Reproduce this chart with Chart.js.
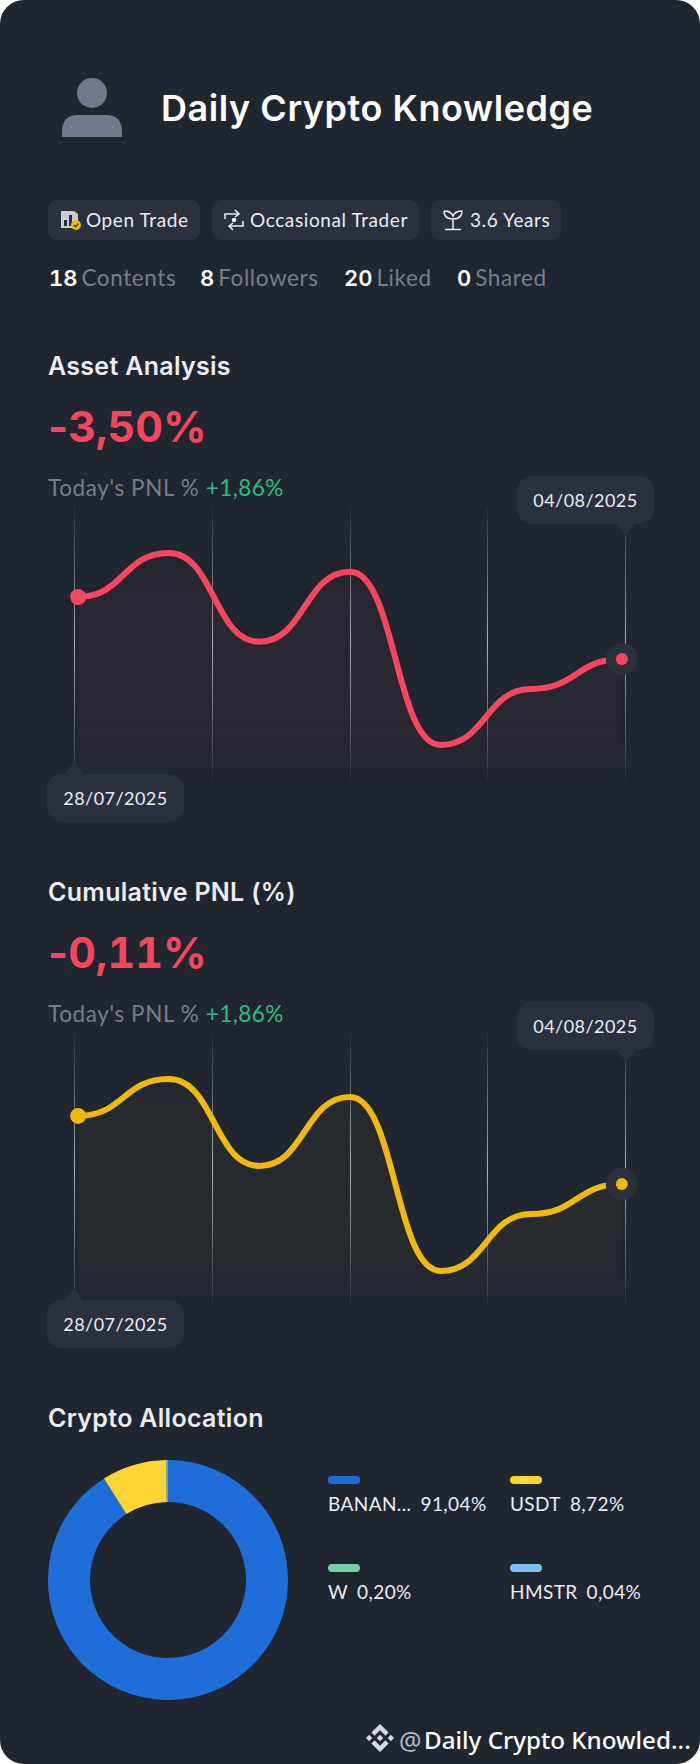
<!DOCTYPE html>
<html>
<head>
<meta charset="utf-8">
<script src="https://cdn.jsdelivr.net/npm/chart.js@4/dist/chart.umd.js"></script>
<style>
    html, body { margin: 0; padding: 0; background: #fff; }
    body { width: 700px; height: 1764px; overflow: hidden; }
    #card { position: relative; width: 700px; height: 1764px; background: #202630; border-radius: 24px; overflow: hidden; font-family: Lato, sans-serif; color: #EAECEF; }
    #card > * { position: absolute; white-space: nowrap; }
    canvas { left: 0; display: block; }
    .title { left: 161px; top: 84px; font-family: Inter, sans-serif; font-size: 36px; letter-spacing: 0.55px; line-height: 48px; font-weight: 600; color: #fff; }
    .badge { height: 40px; top: 200px; background: #2A303C; border-radius: 9px; font-size: 19px; letter-spacing: 0.6px; line-height: 40px; color: #EAECEF; box-sizing: border-box; }
    .badge svg { position: absolute; left: 12px; top: 9px; }
    .badge span { position: absolute; top: 0; }
    .stat { top: 263px; font-size: 22.5px; letter-spacing: 0.6px; line-height: 30px; color: #767D89; }
    .stat b { font-family: Inter, sans-serif; font-size: 22px; font-variant-numeric: tabular-nums; letter-spacing: 0; color: #fff; font-weight: 600; margin-right: 4px; }
    .heading { left: 48px; font-family: Inter, sans-serif; font-size: 25px; letter-spacing: 0.3px; line-height: 32px; font-weight: 600; color: #EAECEF; }
    .big { left: 48px; font-family: Inter, sans-serif; font-size: 43px; font-variant-numeric: tabular-nums; line-height: 56px; font-weight: 700; color: #F6465D; }
    .big span { font-variant-numeric: normal; }
    .today { left: 48px; font-size: 22.5px; letter-spacing: 0.6px; line-height: 30px; color: #767D89; }
    .today i { font-style: normal; letter-spacing: 0.4px; color: #2EBD85; }
    .tip { height: 48px; width: 137px; background: #2A303C; border-radius: 15px; font-size: 18px; letter-spacing: 0.45px; line-height: 48px; text-align: center; color: #EAECEF; }
    .arrow { width: 0; height: 0; border-left: 9px solid transparent; border-right: 9px solid transparent; }
    .swatch { width: 32px; height: 8px; border-radius: 4px; }
    .legend { font-size: 19px; letter-spacing: 0.4px; line-height: 24px; color: #EAECEF; }
    .legend span { margin-left: 9px; }
    .footer { left: 424px; top: 1724px; font-family: "Noto Sans", sans-serif; font-size: 24.2px; line-height: 32px; font-weight: 500; color: #fff; }
    .at { left: 399px; top: 1724px; font-family: "Noto Sans", sans-serif; font-size: 25px; line-height: 32px; color: #B4B9C0; }
</style>
</head>
<body>
<div id="card">
    <!-- avatar -->
    <svg style="left:62px;top:78px" width="60" height="60" viewBox="0 0 60 60">
        <ellipse cx="30" cy="15" rx="15" ry="15" fill="#707A8A"/>
        <path d="M0 59 V54 Q0 37 16 37 H44 Q60 37 60 54 V59 Z" fill="#707A8A"/>
    </svg>
    <div class="title">Daily Crypto Knowledge</div>

    <div class="badge" style="left:48px;width:152px">
        <svg width="22" height="22" viewBox="0 0 22 22"><path d="M1 2 H14 L18 5 V19 H1 Z" fill="#C9CDD2"/><path d="M4 11 H7 V17 H4 Z M9 6 H12 V17 H9 Z" fill="#2A303C"/><circle cx="16" cy="16" r="5" fill="#F0B90B"/><path d="M13.8 16 L15.5 17.7 L18.3 14.6" fill="none" stroke="#2A303C" stroke-width="1.3"/></svg>
        <span style="left:38px">Open Trade</span>
    </div>
    <div class="badge" style="left:212px;width:207px">
        <svg width="20" height="22" viewBox="0 0 20 22" fill="none" stroke="#EAECEF" stroke-width="1.5"><path d="M1 10 V5 H15 M11 1 L15 5 L11 8 M19 12 V17 H5 M9 14 L5 17 L9 21"/><circle cx="10" cy="11" r="1.5" fill="#EAECEF"/></svg>
        <span style="left:38px">Occasional Trader</span>
    </div>
    <div class="badge" style="left:431px;width:130px">
        <svg width="20" height="22" viewBox="0 0 20 22" fill="none" stroke="#EAECEF" stroke-width="1.5"><path d="M1 2 Q1 10 10 10 Q19 10 19 2 Q12 2 10 7 Q8 2 1 2 M10 10 V20 M2 20.5 H18"/></svg>
        <span style="left:39px">3.6 Years</span>
    </div>

    <div class="stat" style="left:49px"><b>18</b>Contents</div>
    <div class="stat" style="left:200px"><b>8</b>Followers</div>
    <div class="stat" style="left:344px"><b>20</b>Liked</div>
    <div class="stat" style="left:457px"><b>0</b>Shared</div>

    <div class="heading" style="top:350px">Asset Analysis</div>
    <div class="big" style="top:398px"><span>-</span>3,50%</div>
    <div class="today" style="top:473px">Today's PNL % <i>+1,86%</i></div>
    <canvas id="assetChart" style="top:507px" width="700" height="273"></canvas>
    <div class="tip" style="left:517px;top:476px">04/08/2025</div>
    <div class="arrow" style="left:617px;top:524px;border-top:12px solid #2A303C"></div>
    <div class="tip" style="left:47px;top:774px">28/07/2025</div>
    <div class="arrow" style="left:65px;top:762px;border-bottom:12px solid #2A303C"></div>

    <div class="heading" style="top:876px">Cumulative PNL (%)</div>
    <div class="big" style="top:924px"><span>-</span>0,11%</div>
    <div class="today" style="top:999px">Today's PNL % <i>+1,86%</i></div>
    <canvas id="cumulativeChart" style="top:1033px" width="700" height="273"></canvas>
    <div class="tip" style="left:517px;top:1002px">04/08/2025</div>
    <div class="arrow" style="left:617px;top:1050px;border-top:12px solid #2A303C"></div>
    <div class="tip" style="left:47px;top:1300px">28/07/2025</div>
    <div class="arrow" style="left:65px;top:1288px;border-bottom:12px solid #2A303C"></div>

    <div class="heading" style="top:1402px">Crypto Allocation</div>
    <canvas id="allocationChart" style="left:48px;top:1460px" width="240" height="240"></canvas>

    <svg style="left:366px;top:1724px" width="28" height="28" viewBox="0 0 126.61 126.61" fill="#D5D8DC">
        <path d="M38.73 53.2l24.59-24.58 24.6 24.6 14.3-14.31L63.32 0 24.43 38.9z"/>
        <path d="M0 63.31l14.3-14.31 14.31 14.31-14.31 14.3z"/>
        <path d="M38.73 73.41l24.59 24.59 24.6-24.6 14.31 14.29-38.9 38.91-38.91-38.88z"/>
        <path d="M98 63.31l14.3-14.31 14.31 14.3-14.31 14.32z"/>
        <path d="M77.83 63.3L63.32 48.78 48.81 63.28l14.51 14.5z"/>
    </svg>
    <div class="at">@</div>
    <div class="footer">Daily Crypto Knowled...</div>
</div>

<script>
// asset analysis (%)
const assetValues = [0.35, 3.08, -2.43, 1.92, -8.84, -5.36, -3.50];
// cumulative pnl (%)
const cumulativeValues = [4.11, 6.40, 1.01, 5.28, -5.50, -1.97, -0.11];
// vertical guide lines, in data index units
const gridTicks = [-0.04, 1.48, 3, 4.52, 6.04];

const allocationLabels = ['BANAN...', 'USDT', 'W', 'HMSTR'];
const allocationValues = [91.04, 8.72, 0.20, 0.04];
const allocationColors = ['#1E6DD8', '#FCD535', '#76CFA6', '#80BDFF'];

const RED = '#FA4560';
const YELLOW = '#F0B90B';
const HALO = '#2A303C';

Chart.defaults.animation = false;
Chart.defaults.responsive = false;

// The curve leaves and enters every point flat, so the control points are set by hand
const flatTangents = {
    id: 'flatTangents',
    afterDatasetsUpdate(chart) {
        const meta = chart.getDatasetMeta(2);
        const line = meta.dataset;
        line.updateControlPoints(chart.chartArea, 'x');
        const pts = meta.data;
        const dx = (pts[1].x - pts[0].x) / 2;
        pts.forEach(p => {
            p.cp1x = p.x - dx;
            p.cp1y = p.y;
            p.cp2x = p.x + dx;
            p.cp2y = p.y;
        });
    }
};

// Function to create one of the two pnl line charts
function createLineChart(id, values, color, fillRgb, peakAlpha, yMin, yMax) {
    const ctx = document.getElementById(id).getContext('2d');
    const points = values.map((v, i) => ({ x: i, y: v }));
    const last = points.length - 1;

    return new Chart(ctx, {
        type: 'line',
        data: {
            datasets: [
                {
                    // end point dot
                    data: [points[last]],
                    pointRadius: 6,
                    pointBackgroundColor: color,
                    pointBorderWidth: 0,
                    showLine: false,
                    order: 0
                },
                {
                    // halo round the end point
                    data: [points[last]],
                    pointRadius: 16,
                    pointBackgroundColor: HALO,
                    pointBorderWidth: 0,
                    showLine: false,
                    order: 1
                },
                {
                    data: points,
                    borderColor: color,
                    borderWidth: 6,
                    borderCapStyle: 'round',
                    cubicInterpolationMode: 'monotone',
                    pointRadius: (c) => (c.dataIndex === 0 ? 8 : 0),
                    pointBackgroundColor: color,
                    pointBorderWidth: 0,
                    fill: 'start',
                    backgroundColor: (c) => {
                        const area = c.chart.chartArea;
                        if (!area) return 'transparent';
                        const g = c.chart.ctx.createLinearGradient(0, area.top, 0, area.bottom);
                        g.addColorStop(0.1, `rgba(${fillRgb}, 0.005)`);
                        g.addColorStop(0.38, `rgba(${fillRgb}, ${peakAlpha})`);
                        g.addColorStop(0.7, `rgba(${fillRgb}, ${peakAlpha})`);
                        g.addColorStop(0.93, `rgba(${fillRgb}, ${peakAlpha * 0.5})`);
                        g.addColorStop(1, `rgba(${fillRgb}, 0)`);
                        return g;
                    },
                    order: 2
                }
            ]
        },
        plugins: [flatTangents],
        options: {
            devicePixelRatio: 1,
            clip: false,
            layout: { autoPadding: false, padding: { left: 74.5, right: 74.5 } },
            plugins: { legend: { display: false }, tooltip: { enabled: false } },
            scales: {
                x: {
                    type: 'linear',
                    min: gridTicks[0],
                    max: gridTicks[gridTicks.length - 1],
                    afterBuildTicks: (axis) => { axis.ticks = gridTicks.map(v => ({ value: v })); },
                    ticks: { display: false },
                    border: { display: false },
                    grid: {
                        drawTicks: false,
                        lineWidth: 1,
                        color: (c) => {
                            const area = c.chart.chartArea;
                            if (!area) return 'transparent';
                            const g = c.chart.ctx.createLinearGradient(0, area.top, 0, area.bottom);
                            g.addColorStop(0, 'rgba(255,255,255,0.04)');
                            g.addColorStop(0.25, 'rgba(255,255,255,0.35)');
                            g.addColorStop(0.5, 'rgba(255,255,255,0.65)');
                            g.addColorStop(0.75, 'rgba(255,255,255,0.35)');
                            g.addColorStop(1, 'rgba(255,255,255,0.04)');
                            return g;
                        }
                    }
                },
                y: { display: false, min: yMin, max: yMax }
            }
        }
    });
}

// Function to create the allocation donut and its legend
function createAllocationChart() {
    const ctx = document.getElementById('allocationChart').getContext('2d');
    new Chart(ctx, {
        type: 'doughnut',
        data: {
            labels: allocationLabels,
            datasets: [{ data: allocationValues, backgroundColor: allocationColors, borderWidth: 0 }]
        },
        options: {
            devicePixelRatio: 1,
            cutout: '65%',
            plugins: { legend: { display: false }, tooltip: { enabled: false } }
        }
    });

    const slots = [[328, 1476], [510, 1476], [328, 1564], [510, 1564]];
    const card = document.getElementById('card');
    allocationLabels.forEach((label, i) => {
        const swatch = document.createElement('div');
        swatch.className = 'swatch';
        swatch.style.left = slots[i][0] + 'px';
        swatch.style.top = slots[i][1] + 'px';
        swatch.style.background = allocationColors[i];
        card.appendChild(swatch);

        const text = document.createElement('div');
        text.className = 'legend';
        text.style.left = slots[i][0] + 'px';
        text.style.top = (slots[i][1] + 16) + 'px';
        text.textContent = label;
        const pct = document.createElement('span');
        pct.textContent = allocationValues[i].toFixed(2).replace('.', ',') + '%';
        text.appendChild(pct);
        card.appendChild(text);
    });
}

createLineChart('assetChart', assetValues, RED, '250, 69, 96', 0.045, -11.02, 5.94);
createLineChart('cumulativeChart', cumulativeValues, YELLOW, '240, 185, 11', 0.035, -7.67, 9.25);
createAllocationChart();
</script>
</body>
</html>
